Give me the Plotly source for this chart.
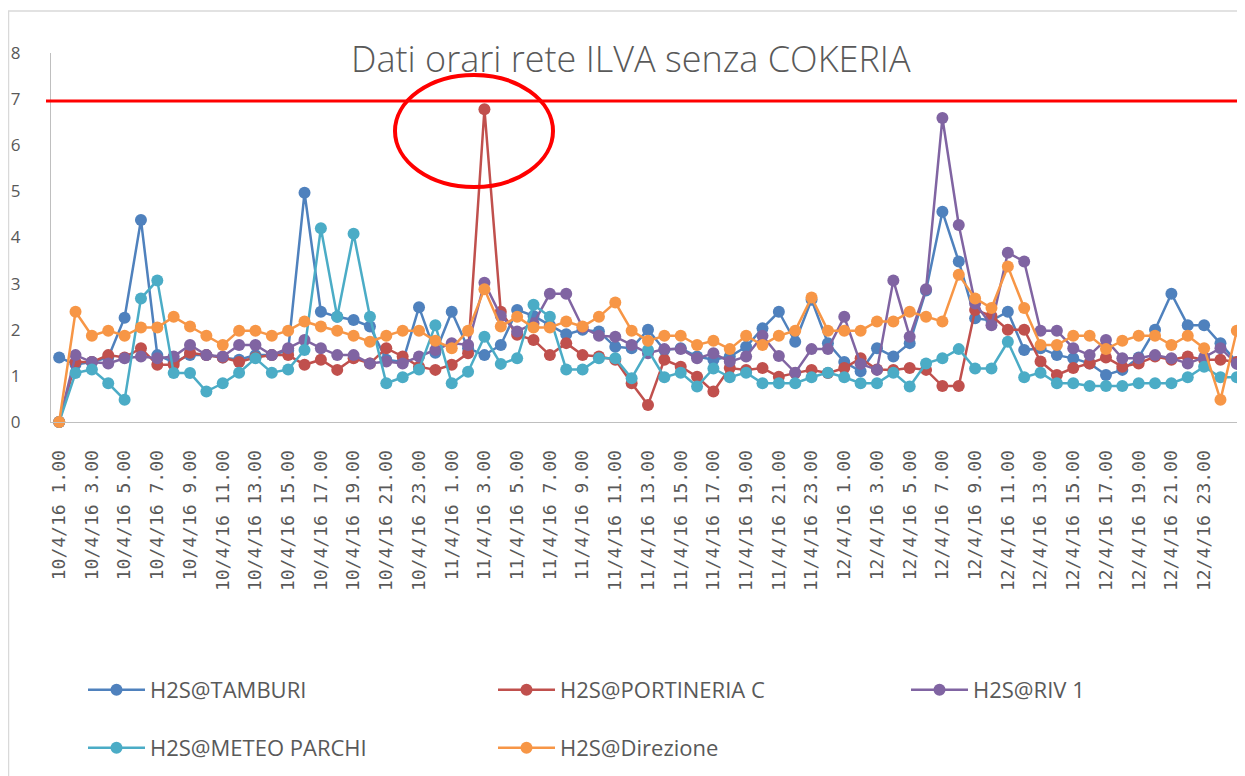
import plotly.graph_objects as go

days = [10, 11, 12]
hours = list(range(1, 25))
categories = [f"{d}/4/16 {h}.00" for d in days for h in hours] + ["13/4/16 1.00"]
tick_labels = categories[0:71:2]

tamburi = [1.4, 1.25, 1.3, 1.4, 2.26, 4.38, 1.45, 1.3, 1.45, 1.45, 1.4, 1.35, 1.45, 1.45, 1.55, 4.97,
           2.39, 2.28, 2.21, 2.07, 1.35, 1.3, 2.49, 1.5, 2.39, 1.6, 1.45, 1.67, 2.43, 2.3, 2.1, 1.9, 2.0, 1.96, 1.63,
           1.6, 2.0, 1.56, 1.6, 1.42, 1.35, 1.42, 1.63, 2.03, 2.39, 1.74, 2.65, 1.71, 1.3, 1.1, 1.6, 1.42, 1.71,
           2.85, 4.56, 3.48, 2.25, 2.2, 2.39, 1.56, 1.6, 1.45, 1.38, 1.27, 1.02, 1.13, 1.4, 2.0, 2.78, 2.1, 2.1, 1.71, 1.3]
portineria = [0, 1.3, 1.3, 1.45, 1.4, 1.6, 1.24, 1.24, 1.5, 1.45, 1.4, 1.3, 1.4, 1.45, 1.45, 1.24,
              1.35, 1.13, 1.38, 1.27, 1.6, 1.42, 1.2, 1.13, 1.24, 1.49, 6.78, 2.39, 1.89, 1.78, 1.45, 1.71, 1.45, 1.42, 1.35,
              0.84, 0.37, 1.35, 1.2, 0.98, 0.66, 1.17, 1.13, 1.17, 0.98, 1.06, 1.13, 1.06, 1.17, 1.38, 1.14, 1.13, 1.17,
              1.13, 0.78, 0.78, 2.43, 2.3, 2.0, 2.0, 1.31, 1.02, 1.17, 1.27, 1.4, 1.2, 1.27, 1.42, 1.35, 1.42, 1.35, 1.35, 1.3]
riv1 = [0, 1.45, 1.3, 1.27, 1.38, 1.42, 1.38, 1.42, 1.67, 1.45, 1.42, 1.67, 1.67, 1.45, 1.6, 1.78,
        1.6, 1.45, 1.45, 1.27, 1.31, 1.27, 1.42, 1.56, 1.71, 1.67, 3.02, 2.3, 1.96, 2.14, 2.78, 2.78, 2.05, 1.87, 1.85,
        1.67, 1.49, 1.58, 1.58, 1.38, 1.49, 1.31, 1.42, 1.87, 1.43, 1.07, 1.58, 1.58, 2.28, 1.26, 1.13, 3.07, 1.85,
        2.88, 6.59, 4.27, 2.57, 2.1, 3.67, 3.48, 1.98, 1.98, 1.6, 1.45, 1.78, 1.38, 1.38, 1.45, 1.38, 1.27, 1.4, 1.6, 1.26]
meteo = [0, 1.06, 1.14, 0.84, 0.48, 2.68, 3.07, 1.06, 1.06, 0.66, 0.84, 1.07, 1.38, 1.07, 1.14, 1.56,
         4.2, 2.28, 4.08, 2.28, 0.84, 0.97, 1.14, 2.1, 0.84, 1.09, 1.85, 1.26, 1.38, 2.54, 2.28, 1.14, 1.14, 1.38, 1.38,
         0.95, 1.56, 0.97, 1.07, 0.77, 1.16, 0.97, 1.07, 0.84, 0.84, 0.84, 0.97, 1.07, 0.97, 0.84, 0.84, 1.07, 0.77,
         1.27, 1.38, 1.58, 1.16, 1.16, 1.74, 0.97, 1.07, 0.84, 0.84, 0.78, 0.78, 0.78, 0.84, 0.84, 0.84, 0.97, 1.2, 0.97, 0.97]
direzione = [0, 2.39, 1.87, 1.98, 1.87, 2.05, 2.05, 2.28, 2.07, 1.87, 1.67, 1.98, 1.98, 1.87, 1.98, 2.18,
             2.07, 1.98, 1.87, 1.74, 1.87, 1.98, 1.98, 1.76, 1.6, 1.98, 2.88, 2.07, 2.28, 2.05, 2.05, 2.18, 2.07, 2.28, 2.59,
             1.98, 1.76, 1.87, 1.87, 1.67, 1.76, 1.58, 1.87, 1.67, 1.87, 1.98, 2.7, 1.98, 1.98, 1.98, 2.18, 2.18, 2.39,
             2.28, 2.18, 3.19, 2.68, 2.47, 3.37, 2.47, 1.67, 1.67, 1.87, 1.87, 1.58, 1.76, 1.87, 1.87, 1.67, 1.87, 1.6, 0.48, 1.98]

series = [
    ("H2S@TAMBURI", tamburi, "#4F81BD"),
    ("H2S@PORTINERIA C", portineria, "#C0504D"),
    ("H2S@RIV 1", riv1, "#8064A2"),
    ("H2S@METEO PARCHI", meteo, "#4BACC6"),
    ("H2S@Direzione", direzione, "#F79646"),
]
limit_value = 6.96

# page offset of the plot div (default body margin)
OFF = 8
W, H = 1245, 776
L, R, T, B = 43, 8, 45, 362
PW, PH = W - L - R, H - T - B


def px_x(px):
    return (px - OFF - L) / PW


def px_y(py):
    return (H - B - (py - OFF)) / PH


# legend slots (page px): marker x, row y
legend_slots = [(115, 690), (525, 690), (938, 690), (115, 748), (525, 748)]

grey = "#595959"
fig = go.Figure()
layout_legends = {}
for k, (name, vals, color) in enumerate(series):
    lname = "legend" if k == 0 else f"legend{k + 1}"
    fig.add_trace(go.Scatter(
        x=categories, y=vals, name=name, mode="lines+markers",
        line=dict(color=color, width=2.5),
        marker=dict(color=color, size=12),
        cliponaxis=False, legend=lname,
    ))
    mx, my = legend_slots[k]
    layout_legends[lname] = dict(
        orientation="h", xanchor="left", yanchor="middle",
        x=px_x(mx - 32), y=px_y(my),
        font=dict(family="Open Sans", size=22, color=grey),
        itemwidth=57, bgcolor="rgba(0,0,0,0)",
    )

fig.update_layout(
    width=W, height=H,
    margin=dict(l=L, r=R, t=T, b=B, autoexpand=False),
    paper_bgcolor="white", plot_bgcolor="white",
    showlegend=True,
    xaxis=dict(type="category", categoryorder="array", categoryarray=categories,
               range=[-0.5, len(categories) - 0.5],
               tickmode="array", tickvals=tick_labels, ticktext=tick_labels,
               tickangle=-90, tickfont=dict(family="DejaVu Sans Mono", size=18, color=grey),
               ticklabelstandoff=20, showline=True, linecolor="#BFBFBF", linewidth=1,
               showgrid=False, zeroline=False, ticks=""),
    yaxis=dict(range=[0, 8], dtick=1, tick0=0, showgrid=False, zeroline=False,
               showline=True, linecolor="#BFBFBF", linewidth=1, ticks="",
               tickfont=dict(family="Open Sans", size=17, color=grey),
               ticklabelstandoff=26),
    annotations=[dict(text="Dati orari rete ILVA senza COKERIA", xref="paper", yref="paper",
                      x=px_x(631), y=px_y(59), xanchor="center", yanchor="middle", showarrow=False,
                      font=dict(family="Open Sans", size=36, color=grey, weight=300))],
    shapes=[
        dict(type="rect", xref="paper", yref="paper", x0=px_x(8.5), x1=px_x(1300),
             y0=px_y(11), y1=px_y(800), line=dict(color="#D9D9D9", width=1.5), layer="below"),
        dict(type="line", xref="paper", yref="y", x0=px_x(46), x1=px_x(1300),
             y0=limit_value, y1=limit_value, line=dict(color="#FF0000", width=3)),
        dict(type="circle", xref="paper", yref="paper", x0=px_x(395), x1=px_x(553),
             y0=px_y(187), y1=px_y(75), line=dict(color="#FF0000", width=4)),
    ],
    **layout_legends,
)

fig.write_html("out.html")
